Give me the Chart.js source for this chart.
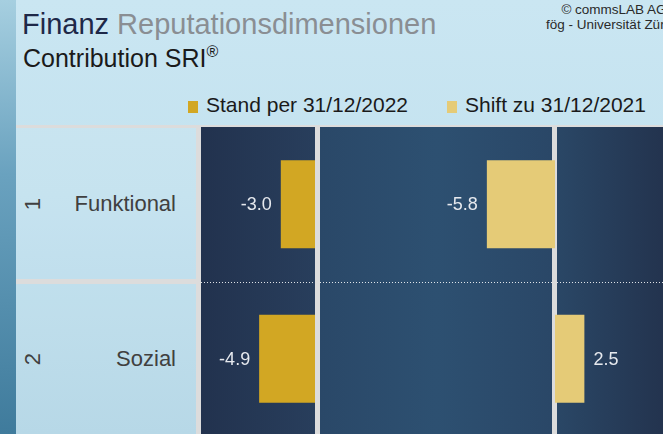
<!DOCTYPE html>
<html lang="de">
<head>
<meta charset="utf-8">
<title>Finanz Reputationsdimensionen</title>
<script src="https://cdn.jsdelivr.net/npm/chart.js@4.4.1/dist/chart.umd.min.js"></script>
<style>
  html, body { margin: 0; padding: 0; }
  body {
    width: 663px; height: 434px; overflow: hidden; position: relative;
    font-family: "Liberation Sans", Arial, sans-serif;
    background: linear-gradient(180deg, #cae6f2 0%, #c3e2ef 45%, #b3d6e6 100%);
  }
  .strip { position: absolute; left: 0; top: 0; width: 16px; height: 434px;
    background: linear-gradient(180deg, #a6cfe0 0%, #6aa2bf 40%, #3f7b9c 100%); }
  .title { position: absolute; left: 22px; top: 10px; font-size: 29px; line-height: 1; white-space: nowrap; }
  .title .a { color: #1e2848; }
  .title .b { color: #8a8e93; }
  .subtitle { position: absolute; left: 23px; top: 45px; font-size: 25px; line-height: 1; color: #1a1a1a; }
  .subtitle sup { font-size: 16px; position: relative; top: -1px; }
  .copy { position: absolute; left: 546px; width: 136px; top: 2px; text-align: center;
    font-size: 13.5px; line-height: 15px; color: #2a2a2a; white-space: nowrap; }
  .legend { position: absolute; top: 94px; font-size: 21px; line-height: 1; color: #1a1a1a; white-space: nowrap; }
  .legend i { display: inline-block; width: 10px; height: 12px; margin-right: 8px; vertical-align: -1px; }
  .frame { position: absolute; left: 196px; top: 125px; width: 467px; height: 309px; background: #dcdcdc; }
  .rowbox { position: absolute; left: 16px; width: 180px; background: rgba(255,255,255,0.06); }
  .cat { position: absolute; right: 487px; font-size: 22px; line-height: 1; color: #404040; transform: translateY(-50%); }
  .rank { position: absolute; left: 33px; font-size: 22px; line-height: 1; color: #404040;
    transform: translate(-50%, -50%) rotate(-90deg); }
  canvas { position: absolute; top: 127px; }
  #standChart { left: 201px; }
  #shiftChart { left: 320px; }
</style>
</head>
<body>
<div class="strip"></div>
<div class="title"><span class="a">Finanz</span> <span class="b">Reputationsdimensionen</span></div>
<div class="subtitle">Contribution SRI<sup>®</sup></div>
<div class="copy">© commsLAB AG<br>fög - Universität Zürich</div>
<div id="legend"></div>
<div class="frame"></div>
<div class="rowbox" style="top:125px;height:151px;border-top:3px solid #dcdcdc"></div>
<div class="rowbox" style="top:279px;height:150px;border-top:5px solid #dcdcdc"></div>
<canvas id="standChart" width="114" height="309"></canvas>
<canvas id="shiftChart" width="470" height="309"></canvas>
<script>
const categories = ['Funktional', 'Sozial'];
const ranks = ['1', '2'];
const standValues = [-3.0, -4.9];
const shiftValues = [-5.8, 2.5];
const seriesNames = ['Stand per 31/12/2022', 'Shift zu 31/12/2021'];

const colors = {
  stand: '#d2a723',
  shift: '#e5cb77',
  gap: '#dcdcdc',
  valueText: '#e6e9ee'
};

// legend
const legendPos = [188, 447];
[colors.stand, colors.shift].forEach((c, i) => {
  const d = document.createElement('div');
  d.className = 'legend';
  d.style.left = legendPos[i] + 'px';
  d.innerHTML = `<i style="background:${c}"></i>${seriesNames[i]}`;
  document.getElementById('legend').appendChild(d);
});

// panel backgrounds, zero gap and row separators
const panelPlugin = {
  id: 'panels',
  beforeDatasetsDraw(chart, args, opts) {
    const { ctx, chartArea: a, scales } = chart;
    const zero = scales.x.getPixelForValue(0);
    ctx.save();
    opts.list.forEach(p => {
      const x0 = p.from === 'left' ? a.left : zero + p.from;
      const x1 = p.to === 'right' ? a.right : zero + p.to;
      const g = ctx.createLinearGradient(x0, 0, p.span ? x0 + p.span : x1, 0);
      p.stops.forEach((s, i) => g.addColorStop(i / (p.stops.length - 1), s));
      ctx.fillStyle = g;
      ctx.fillRect(x0, a.top, x1 - x0, a.bottom - a.top);
    });
    // dotted lines between categories
    const y = scales.y;
    ctx.strokeStyle = 'rgba(255,255,255,0.85)';
    ctx.lineWidth = 1;
    ctx.setLineDash([1, 2]);
    for (let i = 0; i < categories.length - 1; i++) {
      const yy = Math.round((y.getPixelForValue(i) + y.getPixelForValue(i + 1)) / 2) + 0.5;
      ctx.beginPath();
      ctx.moveTo(a.left, yy);
      ctx.lineTo(a.right, yy);
      ctx.stroke();
    }
    ctx.setLineDash([]);
    if (opts.gap) {
      ctx.fillStyle = colors.gap;
      ctx.fillRect(zero - 3, a.top, 5, a.bottom - a.top);
    }
    ctx.restore();
  }
};

// value labels beside the bars
const labelPlugin = {
  id: 'valueLabels',
  afterDatasetsDraw(chart) {
    const { ctx } = chart;
    ctx.save();
    ctx.font = '18px "Liberation Sans", Arial, sans-serif';
    ctx.fillStyle = colors.valueText;
    ctx.textBaseline = 'middle';
    chart.data.datasets.forEach((ds, di) => {
      chart.getDatasetMeta(di).data.forEach((bar, i) => {
        const v = ds.data[i];
        ctx.textAlign = v < 0 ? 'right' : 'left';
        ctx.fillText(v.toFixed(1), v < 0 ? bar.x - 9 : bar.x + 9, bar.y + 1);
      });
    });
    ctx.restore();
  }
};

function makeChart(id, label, values, color, min, max, panels, gap) {
  return new Chart(document.getElementById(id), {
    type: 'bar',
    data: {
      labels: categories,
      datasets: [{
        label: label,
        data: values,
        backgroundColor: color,
        borderWidth: 0,
        categoryPercentage: 1,
        barPercentage: 0.57
      }]
    },
    options: {
      indexAxis: 'y',
      responsive: false,
      animation: false,
      layout: { padding: 0 },
      scales: {
        x: { display: false, min: min, max: max },
        y: { display: false }
      },
      plugins: {
        legend: { display: false },
        tooltip: { enabled: false },
        panels: { list: panels, gap: gap }
      }
    },
    plugins: [panelPlugin, labelPlugin]
  });
}

const standChart = makeChart('standChart', seriesNames[0], standValues, colors.stand, -10, 0,
  [{ from: 'left', to: 'right', stops: ['#22324e', '#283e5c'] }], false);

const shiftChart = makeChart('shiftChart', seriesNames[1], shiftValues, colors.shift, -20, 20,
  [
    { from: 'left', to: -3, stops: ['#2a4868', '#2d5071', '#2a4767'] },
    { from: 2, to: 'right', span: 108, stops: ['#2a4766', '#23334e'] }
  ], true);

// category labels placed on the chart's own category scale
const yScale = standChart.scales.y;
const top0 = 127;
categories.forEach((name, i) => {
  const cy = top0 + yScale.getPixelForValue(i);
  const c = document.createElement('div');
  c.className = 'cat';
  c.style.top = cy + 'px';
  c.textContent = name;
  document.body.appendChild(c);
  const r = document.createElement('div');
  r.className = 'rank';
  r.style.top = cy + 'px';
  r.textContent = ranks[i];
  document.body.appendChild(r);
});
</script>
</body>
</html>
